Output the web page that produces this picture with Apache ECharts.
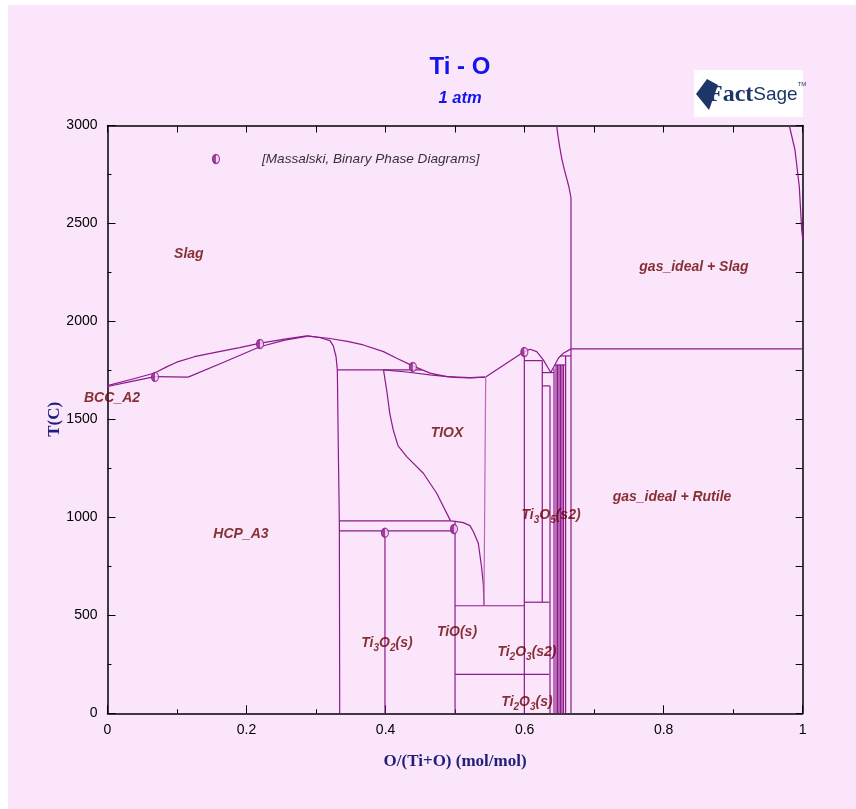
<!DOCTYPE html>
<html><head><meta charset="utf-8">
<script src="https://cdn.jsdelivr.net/npm/echarts/dist/echarts.min.js"></script>
<style>html,body{margin:0;padding:0;background:#ffffff;} #c{position:absolute;left:8px;top:5px;width:848px;height:804px;background:#fbe5fb;}</style>
</head><body><div id="c"></div>
<script>
// ---------- data (O/(Ti+O) mole fraction, T in C) ----------
const xTickLabels = ['0','0.2','0.4','0.6','0.8','1'];
const yTickLabels = ['0','500','1000','1500','2000','2500','3000'];

const liquidusLeft = [[0,1672],[0.035,1705],[0.068,1737],[0.085,1768],[0.0995,1792],[0.125,1820],[0.157,1843],[0.19,1866],[0.22,1889],[0.255,1910],[0.2865,1926]];
const bccSolidus = [[0,1668],[0.035,1694],[0.068,1718]];
const peritectic1720 = [[0.068,1718],[0.116,1716]];
const hcpSolidus = [[0.116,1716],[0.168,1793],[0.2193,1871],[0.255,1905],[0.2865,1924]];
const hcpRight = [[0.2865,1926],[0.305,1918],[0.32,1902],[0.3248,1875],[0.3287,1821],[0.3306,1753],[0.3322,1300],[0.3335,982],[0.334,0]];
const liquidusRight = [[0.2865,1926],[0.32,1913],[0.345,1898],[0.368,1880],[0.397,1846],[0.416,1812],[0.439,1773],[0.464,1736],[0.488,1718],[0.521,1713],[0.543,1716]];
const eutectic1753 = [[0.3306,1753],[0.4525,1753]];
const tioxSolidus = [[0.397,1753],[0.43,1742],[0.464,1727],[0.50,1714],[0.521,1712],[0.543,1716]];
const tioxLeft = [[0.397,1753],[0.402,1640],[0.406,1531],[0.411,1446],[0.418,1365],[0.4304,1310],[0.4543,1225],[0.4735,1123],[0.4935,982]];
const line982 = [[0.3335,982],[0.4935,982]];
const line931 = [[0.3335,931],[0.4984,931]];
const tioxRightLower = [[0.4935,982],[0.50,980],[0.5118,973],[0.5214,958],[0.5265,925],[0.5334,868],[0.538,748],[0.5406,660],[0.5416,549]];
const tioxVertical = [[0.544,1716],[0.5415,549]];
const line549 = [[0.4999,549],[0.5996,549]];
const line199 = [[0.4999,199],[0.6355,199]];
const ti3o2Vertical = [[0.3991,931],[0.3991,0]];
const tioVertical = [[0.4999,982],[0.4999,0]];
const ti2o3Rise = [[0.544,1716],[0.5996,1846]];
const ti2o3Vertical = [[0.5996,1846],[0.5996,0]];
const liquidusTi2O3 = [[0.5996,1846],[0.6077,1858],[0.6174,1846],[0.6269,1804],[0.634,1761],[0.6375,1739],[0.6423,1770],[0.6485,1812],[0.6557,1838],[0.6667,1860]];
const line1800 = [[0.5996,1800],[0.6254,1800]];
const ti3o5Vertical = [[0.6254,1800],[0.6254,567]];
const line567 = [[0.5996,567],[0.6355,567]];
const line1739 = [[0.6254,1739],[0.6423,1739]];
const line1671 = [[0.6254,1671],[0.6365,1671]];
const ti4o7Vertical = [[0.6365,1671],[0.6365,0]];
const line1778 = [[0.6437,1778],[0.659,1778]];
const line1824 = [[0.651,1824],[0.6667,1824]];
const magneliX = [0.6423,0.6452,0.6474,0.6495,0.6517,0.6538,0.6560,0.6590];
const magneliTop = [1760,1778,1778,1778,1778,1778,1778,1824];
const tio2Vertical = [[0.6667,0],[0.6667,1860]];
const gasBoundary = [[0.6667,1860],[0.6667,2630],[0.6635,2690],[0.6575,2770],[0.6535,2830],[0.6505,2890],[0.6475,2960],[0.6461,3000]];
const tio2Liquidus = [[0.6667,1860],[1,1860]];
const oxygenSide = [[0.9807,3000],[0.9889,2875],[0.9951,2688],[0.9986,2467],[1.0,2420]];

const expPoints = [[0.0683,1717],[0.2194,1885],[0.4393,1768],[0.5996,1844],[0.3991,922],[0.4984,941],[0.156,2829]];

const phaseLabels = [
  {name:'Slag', at:[0.117,2345]},
  {name:'BCC_A2', at:[0.0065,1610]},
  {name:'HCP_A3', at:[0.192,915]},
  {name:'TIOX', at:[0.4883,1431]},
  {name:'{m|Ti}{s|3}{m|O}{s|5}{m|(s2)}', at:[0.638,1012]},
  {name:'gas_ideal + Slag', at:[0.8436,2279]},
  {name:'gas_ideal + Rutile', at:[0.812,1105]},
  {name:'{m|Ti}{s|3}{m|O}{s|2}{m|(s)}', at:[0.402,359]},
  {name:'TiO(s)', at:[0.5027,415]},
  {name:'{m|Ti}{s|2}{m|O}{s|3}{m|(s2)}', at:[0.6034,313]},
  {name:'{m|Ti}{s|2}{m|O}{s|3}{m|(s)}', at:[0.6034,58]}
];
const sourceNote = {name:'[Massalski, Binary Phase Diagrams]', at:[0.2222,2829]};

// ---------- chart ----------
const purple = '#8b1a8b';
const chart = echarts.init(document.getElementById('c'), null, {renderer:'canvas'});

function lineSeries(d, color, w){
  return {type:'line', data:d, xAxisIndex:0, yAxisIndex:0, showSymbol:false, symbol:'none', silent:true,
          lineStyle:{color:color||purple, width:w||1.2}, z:3, animation:false};
}
const boundaries = [liquidusLeft,bccSolidus,peritectic1720,hcpSolidus,hcpRight,liquidusRight,eutectic1753,
  tioxSolidus,tioxLeft,line982,line931,tioxRightLower,line549,line199,ti3o2Vertical,tioVertical,ti2o3Rise,
  ti2o3Vertical,liquidusTi2O3,line1800,ti3o5Vertical,line567,line1739,line1671,ti4o7Vertical,line1778,line1824,
  tio2Vertical,gasBoundary,tio2Liquidus,oxygenSide];
const series = boundaries.map(d => lineSeries(d));
series.push(lineSeries(tioxVertical,'#b86ab8',1.2));
magneliX.forEach((x,i) => series.push(lineSeries([[x,0],[x,magneliTop[i]]])));

series.push({type:'scatter', data:expPoints, symbol:'circle', symbolSize:[7,9], silent:true, z:5,
  itemStyle:{color:'#f3d6f3', borderColor:purple, borderWidth:1.3}});
series.push({type:'scatter', data:expPoints, symbol:'path://M10,0 A10,10 0 0,0 10,20 Z', symbolSize:[3.5,9],
  symbolOffset:[-1.75,0], silent:true, z:6, itemStyle:{color:purple}});

const labelFont = {fontFamily:'Liberation Sans, Arial, sans-serif', fontWeight:'bold', fontStyle:'italic', color:'#6a0000'};
series.push({type:'scatter', symbolSize:0, silent:true, z:7,
  data: phaseLabels.map(p => ({value:p.at, label:{formatter:p.name}})),
  label:{show:true, position:'inside', fontSize:14, ...labelFont,
    rich:{ m:{fontSize:14, lineHeight:15, ...labelFont},
           s:{fontSize:10, lineHeight:9, padding:[10,0,0,0], ...labelFont} } }
});
series.push({type:'scatter', symbolSize:0, silent:true, z:7,
  data:[{value:sourceNote.at, label:{formatter:sourceNote.name}}],
  label:{show:true, position:'right', distance:0, fontSize:13.6, fontFamily:'Liberation Sans, Arial, sans-serif',
    fontStyle:'italic', color:'#000'}
});

const axisTitle = {fontFamily:'Liberation Serif, Times New Roman, serif', fontWeight:'bold', fontSize:17, color:'#1f1f7a'};

chart.setOption({
  animation:false,
  backgroundColor:'#fbe5fb',
  title:[
    {text:'Ti - O', left:447, top:45, textAlign:'center',
      textStyle:{fontFamily:'Liberation Sans, Arial, sans-serif', fontWeight:'bold', fontSize:24, color:'#1414ee'}},
    {text:'1 atm', left:447, top:80, textAlign:'center',
      textStyle:{fontFamily:'Liberation Sans, Arial, sans-serif', fontWeight:'bold', fontStyle:'italic', fontSize:16.5, color:'#1414ee'}}
  ],
  grid:{left:99.5, right:53.3, top:120.5, bottom:95.7, containLabel:false},
  xAxis:[
    {type:'value', min:0, max:1, interval:0.2, position:'bottom',
      axisLine:{show:true, onZero:false, lineStyle:{color:'#000', width:1.5}},
      axisTick:{show:true, inside:true, length:8, lineStyle:{color:'#000', width:1}},
      minorTick:{show:true, splitNumber:2, length:4, lineStyle:{color:'#000', width:1}},
      splitLine:{show:false},
      axisLabel:{margin:10, fontSize:14, color:'#000', fontFamily:'Liberation Sans, Arial, sans-serif',
        formatter:v => xTickLabels[Math.round(v/0.2)]},
      name:'O/(Ti+O) (mol/mol)', nameLocation:'middle', nameGap:40, nameTextStyle:axisTitle},
    {type:'value', min:0, max:1, interval:0.1, position:'top',
      axisLine:{show:true, onZero:false, lineStyle:{color:'#000', width:1.5}},
      axisTick:{show:true, inside:true, length:7, lineStyle:{color:'#000', width:1}},
      axisLabel:{show:false}, splitLine:{show:false}}
  ],
  yAxis:[
    {type:'value', min:0, max:3000, interval:500, position:'left',
      axisLine:{show:true, onZero:false, lineStyle:{color:'#000', width:1.5}},
      axisTick:{show:true, inside:true, length:8, lineStyle:{color:'#000', width:1}},
      minorTick:{show:true, splitNumber:2, length:4, lineStyle:{color:'#000', width:1}},
      splitLine:{show:false},
      axisLabel:{margin:10, fontSize:14, color:'#000', fontFamily:'Liberation Sans, Arial, sans-serif',
        formatter:v => yTickLabels[Math.round(v/500)]},
      name:'T(C)', nameLocation:'middle', nameGap:44, nameRotate:90, nameMoveOverlap:false, nameTextStyle:axisTitle},
    {type:'value', min:0, max:3000, interval:250, position:'right',
      axisLine:{show:true, onZero:false, lineStyle:{color:'#000', width:1.5}},
      axisTick:{show:true, inside:true, length:7, lineStyle:{color:'#000', width:1}},
      axisLabel:{show:false}, splitLine:{show:false}}
  ],
  graphic:[
    {type:'group', left:686, top:65, children:[
      {type:'rect', shape:{x:0, y:0, width:109, height:47}, style:{fill:'#ffffff'}},
      {type:'polygon', shape:{points:[[2,24],[13,9],[24,15],[15,40]]}, style:{fill:'#1e3567'}},
      {type:'text', x:14, y:11, style:{text:'{b|Fact}{n|Sage}{t|TM}', rich:{
        b:{fontFamily:'Liberation Serif, serif', fontWeight:'bold', fontSize:24, fill:'#1e3567', lineHeight:28},
        n:{fontFamily:'Liberation Sans Narrow, Liberation Sans, sans-serif', fontSize:19, fill:'#1e3567', lineHeight:28},
        t:{fontFamily:'Liberation Sans, sans-serif', fontSize:6, fill:'#1e3567', verticalAlign:'top', lineHeight:28}}}}
    ]}
  ],
  series:series
});
</script></body></html>
